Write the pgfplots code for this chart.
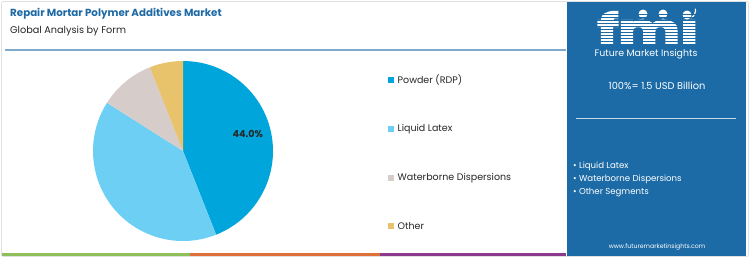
\documentclass[border=0pt]{standalone}
\usepackage{fontspec}
\setmainfont{Poppins}
\newfontfamily\logofont[BoldFeatures={FakeBold=4}]{Poppins}
\usepackage{pgfplots}
\pgfplotsset{compat=1.18}
\definecolor{cPow}{HTML}{00A6DB}
\definecolor{cLiq}{HTML}{6ECFF4}
\definecolor{cWat}{HTML}{D6CCC9}
\definecolor{cOth}{HTML}{E9C26C}
\definecolor{titleblue}{HTML}{1E6AA6}
\definecolor{panel}{HTML}{1C6BA6}
\definecolor{sgreen}{HTML}{8DBF5A}
\definecolor{sorange}{HTML}{E0703A}
\definecolor{spurple}{HTML}{8B3A8E}
\definecolor{sepline}{HTML}{7FA9CF}
% shares (percent)
\def\vA{44.0}\def\vB{40.0}\def\vC{10.0}\def\vD{6.0}
\begin{document}
\begin{tikzpicture}
\useasboundingbox (0,0) rectangle (750pt,-258pt);
% card
\fill[white] (0,0) rectangle (750pt,-258pt);
\draw[black!12, line width=0.8pt, rounded corners=2pt] (1.5pt,-1.5pt) rectangle (748.5pt,-256.5pt);
% bottom strip
\fill[sgreen] (2pt,-253pt) rectangle (190pt,-256pt);
\fill[sorange] (190pt,-253pt) rectangle (380pt,-256pt);
\fill[spurple] (380pt,-253pt) rectangle (566pt,-256pt);
% title
\node[anchor=base west, font=\fontsize{10.3}{12}\selectfont\bfseries, text=titleblue, inner sep=0] at (10pt,-16pt) {Repair Mortar Polymer Additives Market};
\node[anchor=base west, font=\fontsize{9.7}{11}\selectfont, text=black!85, inner sep=0] at (10pt,-33pt) {Global Analysis by Form};
\draw[sepline, line width=1.1pt] (5pt,-50pt) -- (566pt,-50pt);
% right panel
\fill[panel] (567pt,-2pt) rectangle (746pt,-256pt);
\node[anchor=base, font=\fontsize{40}{40}\selectfont\logofont\bfseries, text=white, inner sep=0, xscale=1.45] at (648pt,-43pt) {fmı};
\fill[white] (643pt,-14pt) circle (4.5pt);
\fill[white] (663pt,-14pt) circle (4.5pt);
\fill[white] (687pt,-15pt) circle (4.5pt);
\draw[white, line width=1.2pt] (691pt,-18pt) arc[start angle=-60, end angle=10, radius=9pt];
\foreach \yy in {14,17,20,23,26,29,32,35,38,41} {
  \draw[panel, line width=0.7pt] (588pt,-\yy pt) -- (712pt,-\yy pt);
}
\node[anchor=center, font=\fontsize{9.4}{10}\selectfont, text=white, inner sep=0] at (646pt,-54pt) {Future Market Insights};
\node[anchor=center, font=\fontsize{9.8}{11}\selectfont, text=white, inner sep=0] at (657pt,-86pt) {100\%= 1.5 USD Billion};
\draw[white!75!panel, line width=0.7pt] (576pt,-118pt) -- (736pt,-118pt);
\node[anchor=west, font=\fontsize{8.6}{10}\selectfont, text=white, inner sep=0] at (573pt,-166pt) {• Liquid Latex};
\node[anchor=west, font=\fontsize{8.6}{10}\selectfont, text=white, inner sep=0] at (573pt,-179pt) {• Waterborne Dispersions};
\node[anchor=west, font=\fontsize{8.6}{10}\selectfont, text=white, inner sep=0] at (573pt,-192pt) {• Other Segments};
\node[anchor=center, font=\fontsize{6.2}{7}\selectfont, text=white, inner sep=0] at (657pt,-247pt) {www.futuremarketinsights.com};
% pie
\begin{axis}[
  at={(183pt,-151pt)}, anchor=center,
  scale only axis, width=180pt, height=180pt,
  xmin=-1, xmax=1, ymin=-1, ymax=1,
  hide axis, clip=false,
]
\fill[cPow] (axis cs:0,0) -- (axis cs:0,1) arc[start angle=90, end angle={90-3.6*\vA}, radius=1] -- cycle;
\fill[cLiq] (axis cs:0,0) -- (axis cs:{cos(90-3.6*\vA)},{sin(90-3.6*\vA)}) arc[start angle={90-3.6*\vA}, end angle={90-3.6*(\vA+\vB)}, radius=1] -- cycle;
\fill[cWat] (axis cs:0,0) -- (axis cs:{cos(90-3.6*(\vA+\vB))},{sin(90-3.6*(\vA+\vB))}) arc[start angle={90-3.6*(\vA+\vB)}, end angle={90-3.6*(\vA+\vB+\vC)}, radius=1] -- cycle;
\fill[cOth] (axis cs:0,0) -- (axis cs:{cos(90-3.6*(\vA+\vB+\vC))},{sin(90-3.6*(\vA+\vB+\vC))}) arc[start angle={90-3.6*(\vA+\vB+\vC)}, end angle={90-3.6*(\vA+\vB+\vC+\vD)}, radius=1] -- cycle;
\node[font=\fontsize{9.6}{11}\selectfont\bfseries, text=black!85] at (axis cs:0.72,0.19) {44.0\%};
\end{axis}
% legend
\foreach \c/\t/\yy in {cPow/Powder (RDP)/80, cLiq/Liquid Latex/129, cWat/Waterborne Dispersions/178, cOth/Other/226} {
  \fill[\c] (388pt,-\yy pt+3pt) rectangle (394pt,-\yy pt-3pt);
  \node[anchor=west, font=\fontsize{9.5}{11}\selectfont, text=black!85, inner sep=0] at (397.5pt,-\yy pt) {\t};
}
\end{tikzpicture}
\end{document}
